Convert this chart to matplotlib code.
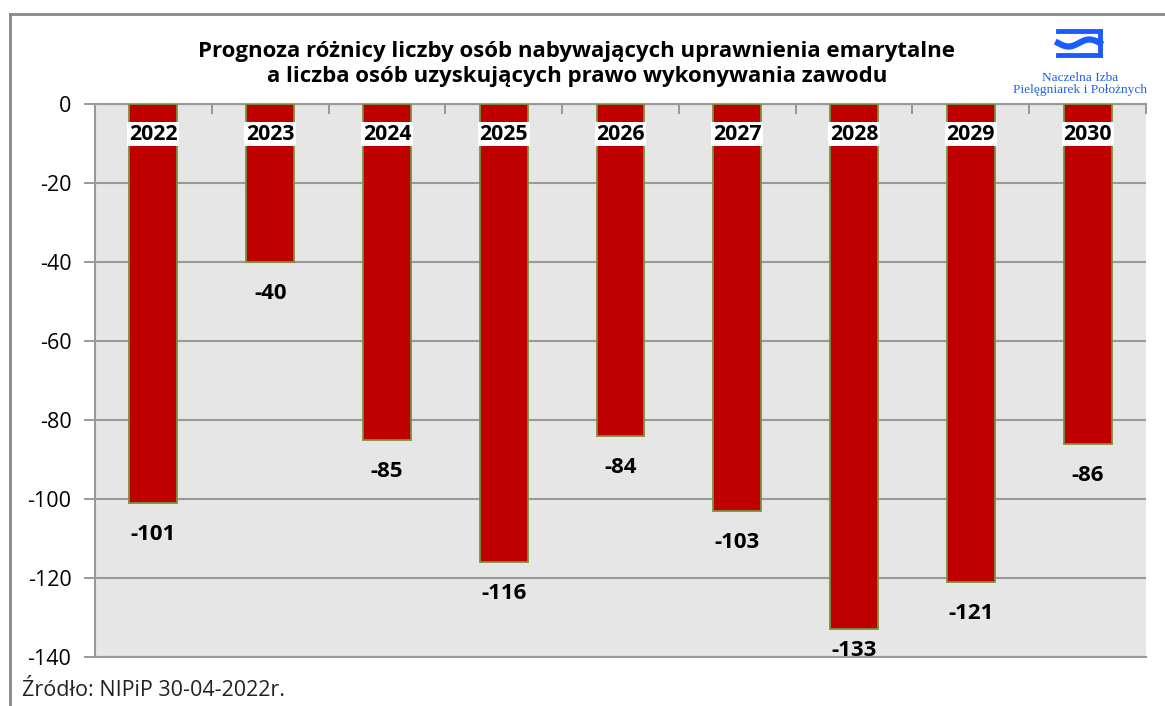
import matplotlib
matplotlib.use("Agg")
import matplotlib.pyplot as plt
import numpy as np

years = ["2022", "2023", "2024", "2025", "2026", "2027", "2028", "2029", "2030"]
values = [-101, -40, -85, -116, -84, -103, -133, -121, -86]
yticks = [0, -20, -40, -60, -80, -100, -120, -140]
title = "Prognoza różnicy liczby osób nabywających uprawnienia emarytalne\na liczba osób uzyskujących prawo wykonywania zawodu"
source = "Źródło: NIPiP 30-04-2022r."
logo_text = "Naczelna Izba\nPielęgniarek i Położnych"

plt.rcParams['font.family'] = ['Open Sans', 'DejaVu Sans']

fig = plt.figure(figsize=(11.65, 7.06), dpi=100)
ax = fig.add_axes([95/1165, 1-657/706, (1146-95)/1165, (657-103.7)/706])
ax.set_facecolor("#E6E6E6")

x = np.arange(len(years))
ax.bar(x, values, width=0.41, color="#C00000", edgecolor="#77933C", linewidth=1.3, zorder=3)
ymin, ymax = -140, 0
ax.set_xlim(-0.5, len(years) - 0.5)
ax.set_ylim(ymin, ymax)
ax.set_yticks(yticks)
ax.set_yticklabels([str(v) for v in yticks], fontsize=15.5)
ax.tick_params(axis='y', length=8, color="#888888", width=1.2, pad=9)
ax.yaxis.grid(True, color="#999999", linewidth=1.5, zorder=1)
ax.set_axisbelow(True)

ax.xaxis.tick_top()
ax.set_xticks(np.arange(len(years) + 1) - 0.5)
ax.set_xticklabels([])
ax.tick_params(axis='x', direction='in', length=7, color="#888888", width=1.2)

ax.spines["right"].set_visible(False)
for s in ["top", "bottom", "left"]:
    ax.spines[s].set_color("#999999")
    ax.spines[s].set_linewidth(1.5)

# label offset below the bar end, in data units (converted from pixels)
px_per_unit = ax.get_position().height * fig.get_figheight() * fig.dpi / (ymax - ymin)
label_gap = 21 / px_per_unit
label_h = 22 / px_per_unit
bottom_shift = 4 / px_per_unit

for xi, v, yr in zip(x, values, years):
    top = v - label_gap
    if top - label_h < ymin:
        ax.text(xi, ymin - bottom_shift, str(v), ha="center", va="bottom", fontsize=16,
                fontweight="bold", zorder=5, clip_on=False)
    else:
        ax.text(xi, top, str(v), ha="center", va="top", fontsize=16,
                fontweight="bold", zorder=5)
    ax.text(xi, -7.7, yr, ha="center", va="center", fontsize=15.3, fontweight="bold",
            zorder=5, bbox=dict(boxstyle="square,pad=0.08", facecolor="white", edgecolor="none"))

fig.text(577/1165, 1-64/706, title, ha="center", va="center", fontsize=16,
         fontweight="bold", linespacing=1.3)

fig.text(22/1165, 1-691/706, source, ha="left", va="center", fontsize=15.5, color="#222222")

# frame
fig.add_artist(plt.Line2D([9.5/1165, 9.5/1165], [0, 1-13.5/706], transform=fig.transFigure,
                          color="#888888", linewidth=2))
fig.add_artist(plt.Line2D([9.5/1165, 1], [1-13.5/706, 1-13.5/706], transform=fig.transFigure,
                          color="#888888", linewidth=2))

# logo
lx0, lx1 = 1058, 1100
blue = "#1A5CFF"
fig.add_artist(plt.Line2D([lx0/1165, lx1/1165], [1-31/706, 1-31/706], transform=fig.transFigure,
                          color=blue, linewidth=3.5))
fig.add_artist(plt.Line2D([lx0/1165, lx1/1165], [1-55/706, 1-55/706], transform=fig.transFigure,
                          color=blue, linewidth=3.5))
fig.add_artist(plt.Line2D([lx1/1165, lx1/1165], [1-31/706, 1-55/706], transform=fig.transFigure,
                          color=blue, linewidth=3.5))
t = np.linspace(0, 1, 50)
wx = (lx0 + t * (lx1 - lx0)) / 1165
wy = 1 - (43 + 3.5 * np.sin(t * 2 * np.pi)) / 706
fig.add_artist(plt.Line2D(wx, wy, transform=fig.transFigure, color=blue, linewidth=4.5))
fig.text(1080/1165, 1-84/706, logo_text, ha="center", va="center", fontsize=9.6,
         color="#2060E0", family=["Liberation Serif", "DejaVu Serif"], linespacing=1.0)

fig.savefig("out.png", dpi=100, facecolor="white")
